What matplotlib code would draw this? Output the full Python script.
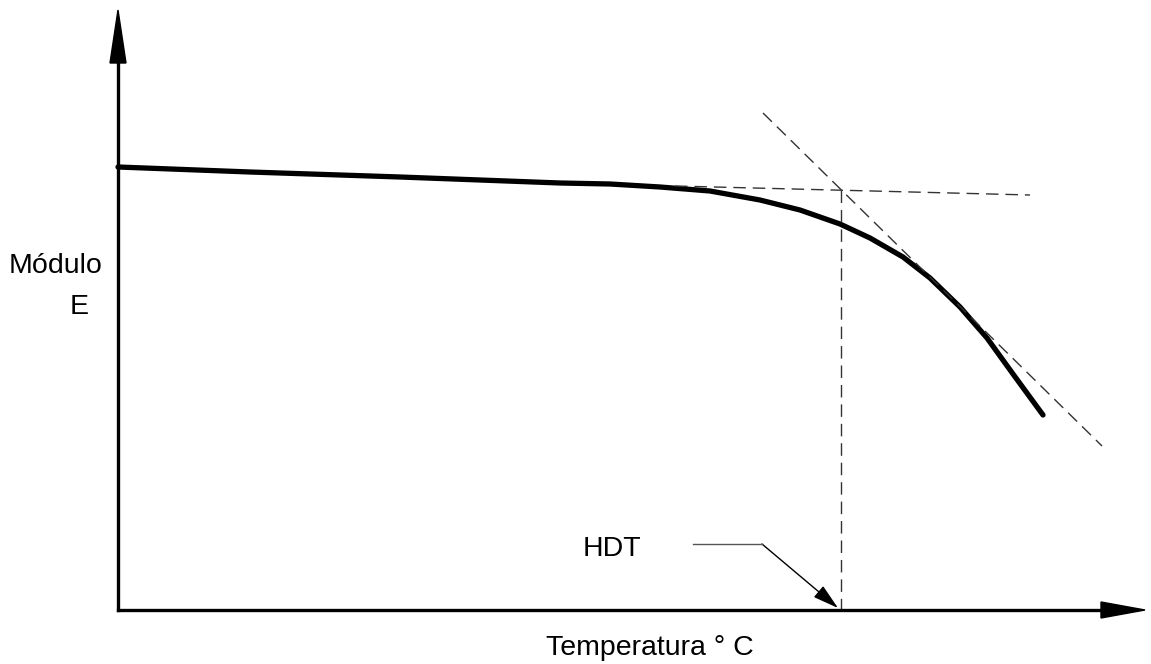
import matplotlib
matplotlib.use("Agg")
import matplotlib.pyplot as plt
from matplotlib.patches import FancyArrowPatch, Polygon

plt.rcParams['font.family'] = ['Liberation Sans', 'DejaVu Sans']

# Curve of modulus vs temperature (in figure pixel coordinates, y downward)
curve_x = [118, 250, 400, 560, 610, 660, 710, 760, 800, 840, 870, 903, 930, 960, 987, 1013, 1043]
curve_y = [167, 172, 177, 183, 184, 187, 191, 200, 210, 224, 238, 257, 278, 307, 338, 374, 415]

# Tangent lines
tan1_x = [675, 1030]
tan1_y = [186, 195]
tan2_x = [763, 1102]
tan2_y = [113, 446]
hdt_x = 841
hdt_top = 190

origin_x, origin_y = 118, 610
xaxis_end = 1145
yaxis_top = 10

fig = plt.figure(figsize=(11.51, 6.64), dpi=100)
ax = fig.add_axes([0, 0, 1, 1])
ax.set_xlim(0, 1151)
ax.set_ylim(664, 0)
ax.axis('off')

dash = (0, (9, 5))
ax.plot(curve_x, curve_y, color='black', lw=3.8, solid_capstyle='round', solid_joinstyle='round')
ax.plot(tan1_x, tan1_y, color='#333333', lw=1.0, linestyle=dash)
ax.plot(tan2_x, tan2_y, color='#333333', lw=1.0, linestyle=dash)
ax.plot([hdt_x, hdt_x], [hdt_top, origin_y], color='#333333', lw=1.0, linestyle=dash)

# axes lines
ax.plot([origin_x, 1105], [origin_y, origin_y], color='black', lw=2.4)
ax.plot([origin_x, origin_x], [origin_y, 60], color='black', lw=2.4)
ax.add_patch(Polygon([[origin_x, yaxis_top], [origin_x - 8, 63], [origin_x + 8, 63]],
                     closed=True, color='black'))
ax.add_patch(Polygon([[xaxis_end, origin_y], [1101, origin_y - 8], [1101, origin_y + 8]],
                     closed=True, color='black'))

# HDT annotation
ax.plot([693, 762], [544, 544], color='#555555', lw=1.0)
ax.add_patch(FancyArrowPatch((762, 544), (838, 608), arrowstyle='-|>,head_length=16,head_width=4.5',
                             color='black', lw=1.0, mutation_scale=1, shrinkA=0, shrinkB=0))
ax.text(583, 549, 'HDT', fontsize=20.5, ha='left', va='center')

ax.text(9, 266, 'Módulo', fontsize=20.5, ha='left', va='center')
ax.text(70, 307, 'E', fontsize=20.5, ha='left', va='center')
ax.text(650, 648, 'Temperatura ° C', fontsize=20.5, ha='center', va='center')

fig.savefig('out.png', dpi=100)
